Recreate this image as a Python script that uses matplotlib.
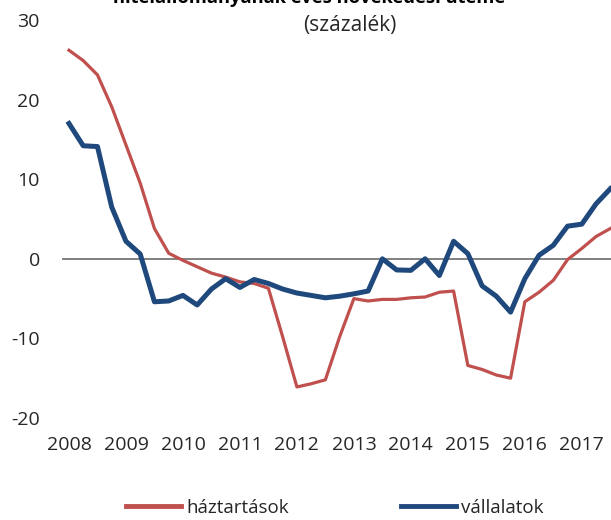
import matplotlib
matplotlib.use("Agg")
import matplotlib.pyplot as plt
import numpy as np

plt.rcParams['font.family'] = ['Open Sans', 'DejaVu Sans']
plt.rcParams['axes.unicode_minus'] = False

# quarterly data, 2008 Q1 onwards
start_year = 2008
haztartasok = [26.2, 24.9, 23.1, 19.1, 14.3, 9.5, 3.8, 0.7,
               -0.2, -1.0, -1.8, -2.3, -2.9, -3.1, -3.7, -9.8,
               -16.1, -15.7, -15.2, -9.8, -5.0, -5.3, -5.1, -5.1,
               -4.9, -4.8, -4.2, -4.05, -13.4, -13.9, -14.6, -15.0,
               -5.4, -4.2, -2.7, -0.1, 1.3, 2.8, 3.8]
vallalatok = [17.0, 14.2, 14.1, 6.5, 2.2, 0.6, -5.4, -5.3,
              -4.6, -5.8, -3.8, -2.5, -3.6, -2.6, -3.1, -3.8,
              -4.3, -4.6, -4.9, -4.7, -4.4, -4.05, 0.0, -1.4,
              -1.45, 0.0, -2.1, 2.2, 0.65, -3.4, -4.7, -6.7,
              -2.5, 0.45, 1.7, 4.1, 4.35, 6.9, 8.8]
years = list(range(2008, 2018))
yticks = [-20, -10, 0, 10, 20, 30]

t = start_year + np.arange(len(haztartasok)) / 4.0

fig = plt.figure(figsize=(6.11, 5.2), dpi=100)
ax = fig.add_axes([62 / 611, 1 - 418 / 520, 1 - 62 / 611, (418 - 20) / 520])

ax.axhline(0, color='#808080', lw=1.4, zorder=1)
ax.plot(t, haztartasok, color='#C0504D', lw=2.3, label='háztartások', zorder=2)
ax.plot(t, vallalatok, color='#1F497D', lw=3.6, label='vállalatok', zorder=3)

ax.set_ylim(-20, 30)
ax.set_xlim(start_year - 0.49 / 4, start_year + 38.05 / 4)
ax.set_yticks(yticks)
ax.set_xticks(years)
ax.set_xticklabels([str(y) for y in years])
for s in ax.spines.values():
    s.set_visible(False)
ax.tick_params(axis='both', length=0, labelsize=14, colors='#262626')
ax.tick_params(axis='y', pad=16)
ax.tick_params(axis='x', pad=13)

# title is cut by the top edge in the original too
fig.text(309 / 611, 1 - 3 / 520, 'hitelállományának éves növekedési üteme',
         ha='center', va='baseline', fontsize=13.2, fontweight='bold', color='#000000')
fig.text(350 / 611, 1 - 26 / 520, '(százalék)', ha='center', va='center',
         fontsize=15, color='#262626')

leg = fig.legend(loc='center', bbox_to_anchor=(335 / 611, 1 - 508 / 520), ncol=2,
                 frameon=False, fontsize=13.5, handlelength=2.9, columnspacing=6.0,
                 handletextpad=0.3)
for line in leg.get_lines():
    line.set_linewidth(3.5)
for txt in leg.get_texts():
    txt.set_color('#262626')

fig.savefig('out.png', dpi=100)
